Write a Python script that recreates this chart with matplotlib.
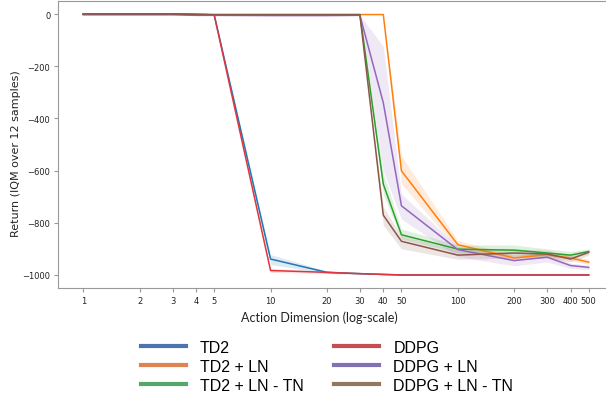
import numpy as np
import matplotlib
matplotlib.use("Agg")
import matplotlib.pyplot as plt
from matplotlib.lines import Line2D

# action dimensions on the x axis
dims = [1, 2, 3, 4, 5, 10, 20, 30, 40, 50, 100, 200, 300, 400, 500]

# IQM return per method, with lower / upper band
td2 = [0, 0, 0, -2, -3, -939, -990, -995, -998, -1000, -1000, -1000, -1000, -1000, -1000]
td2_lo = [0, 0, 0, -2, -3, -960, -995, -997, -999, -1000, -1000, -1000, -1000, -1000, -1000]
td2_hi = [0, 0, 0, -2, -3, -922, -985, -993, -997, -1000, -1000, -1000, -1000, -1000, -1000]

td2_ln = [0, 0, 0, -1, -2, -2, -2, -2, -2, -601, -884, -935, -922, -935, -951]
td2_ln_lo = [0, 0, 0, -1, -2, -2, -2, -2, -2, -652, -900, -945, -932, -945, -960]
td2_ln_hi = [0, 0, 0, -1, -2, -2, -2, -2, -2, -544, -868, -925, -912, -925, -940]

td2_ln_tn = [0, 0, 0, -1, -2, -2, -2, -2, -652, -846, -901, -905, -916, -924, -910]
td2_ln_tn_lo = [0, 0, 0, -1, -2, -2, -2, -2, -690, -862, -915, -925, -930, -935, -920]
td2_ln_tn_hi = [0, 0, 0, -1, -2, -2, -2, -2, -610, -824, -885, -885, -900, -910, -900]

ddpg = [0, 0, 0, -2, -3, -983, -990, -995, -998, -1000, -1000, -1000, -1000, -1000, -1000]
ddpg_lo = [0, 0, 0, -2, -3, -990, -994, -997, -999, -1000, -1000, -1000, -1000, -1000, -1000]
ddpg_hi = [0, 0, 0, -2, -3, -975, -986, -993, -997, -1000, -1000, -1000, -1000, -1000, -1000]

ddpg_ln = [-3, -3, -3, -5, -5, -6, -6, -5, -340, -735, -903, -945, -932, -964, -971]
ddpg_ln_lo = [-3, -3, -3, -5, -5, -6, -6, -5, -600, -786, -930, -965, -950, -975, -980]
ddpg_ln_hi = [-3, -3, -3, -5, -5, -6, -6, -5, -124, -690, -890, -925, -915, -955, -962]

ddpg_ln_tn = [0, 0, 0, -2, -3, -3, -3, -3, -771, -871, -924, -916, -920, -939, -913]
ddpg_ln_tn_lo = [0, 0, 0, -2, -3, -3, -3, -3, -810, -900, -940, -935, -935, -950, -925]
ddpg_ln_tn_hi = [0, 0, 0, -2, -3, -3, -3, -3, -740, -850, -905, -900, -905, -925, -905]

labels = ["TD2", "TD2 + LN", "TD2 + LN - TN", "DDPG", "DDPG + LN", "DDPG + LN - TN"]
line_colors = ["#1f77b4", "#ff7f0e", "#2ca02c", "#e0363d", "#9467bd", "#8c564b"]
legend_colors = ["#4c72b0", "#dd8452", "#55a868", "#c44e52", "#8172b3", "#937860"]

series = [(td2, td2_lo, td2_hi), (td2_ln, td2_ln_lo, td2_ln_hi),
          (td2_ln_tn, td2_ln_tn_lo, td2_ln_tn_hi), (ddpg, ddpg_lo, ddpg_hi),
          (ddpg_ln, ddpg_ln_lo, ddpg_ln_hi), (ddpg_ln_tn, ddpg_ln_tn_lo, ddpg_ln_tn_hi)]

fig = plt.figure(figsize=(6.06, 4.02), dpi=100)
ax = fig.add_axes([58 / 606, 113 / 402, 556 / 606, 287 / 402])

for (y, lo, hi), c in zip(series, line_colors):
    ax.fill_between(dims, lo, hi, color=c, alpha=0.15, lw=0)
    ax.plot(dims, y, color=c, lw=1.1)

ax.set_xscale("log")
ax.set_xticks(dims)
ax.set_xticklabels([str(d) for d in dims])
ax.minorticks_off()
ax.tick_params(labelsize=6, labelcolor="#222222", length=3, color="#999999", pad=2.5)
for s in ax.spines.values():
    s.set_color("#999999")

ax.set_ylabel("Return (IQM over 12 samples)", fontsize=8, color="#222222")
ax.yaxis.set_label_coords((21 - 58) / 556, 0.47)
ax.set_xlabel("Action Dimension (log-scale)", fontsize=9, family="Lato",
              color="#222222", x=(319 - 58) / 556)

handles = [Line2D([], [], color=c, lw=3) for c in legend_colors]
fig.legend(handles, labels, ncol=2, loc="upper left",
           bbox_to_anchor=(133 / 606, 1 - 333 / 402), frameon=False,
           prop={"family": "Liberation Sans", "size": 11.5},
           handlelength=2.8, handletextpad=0.9, columnspacing=1.9,
           labelspacing=0.25, borderpad=0)

fig.savefig("out.png", dpi=100)
